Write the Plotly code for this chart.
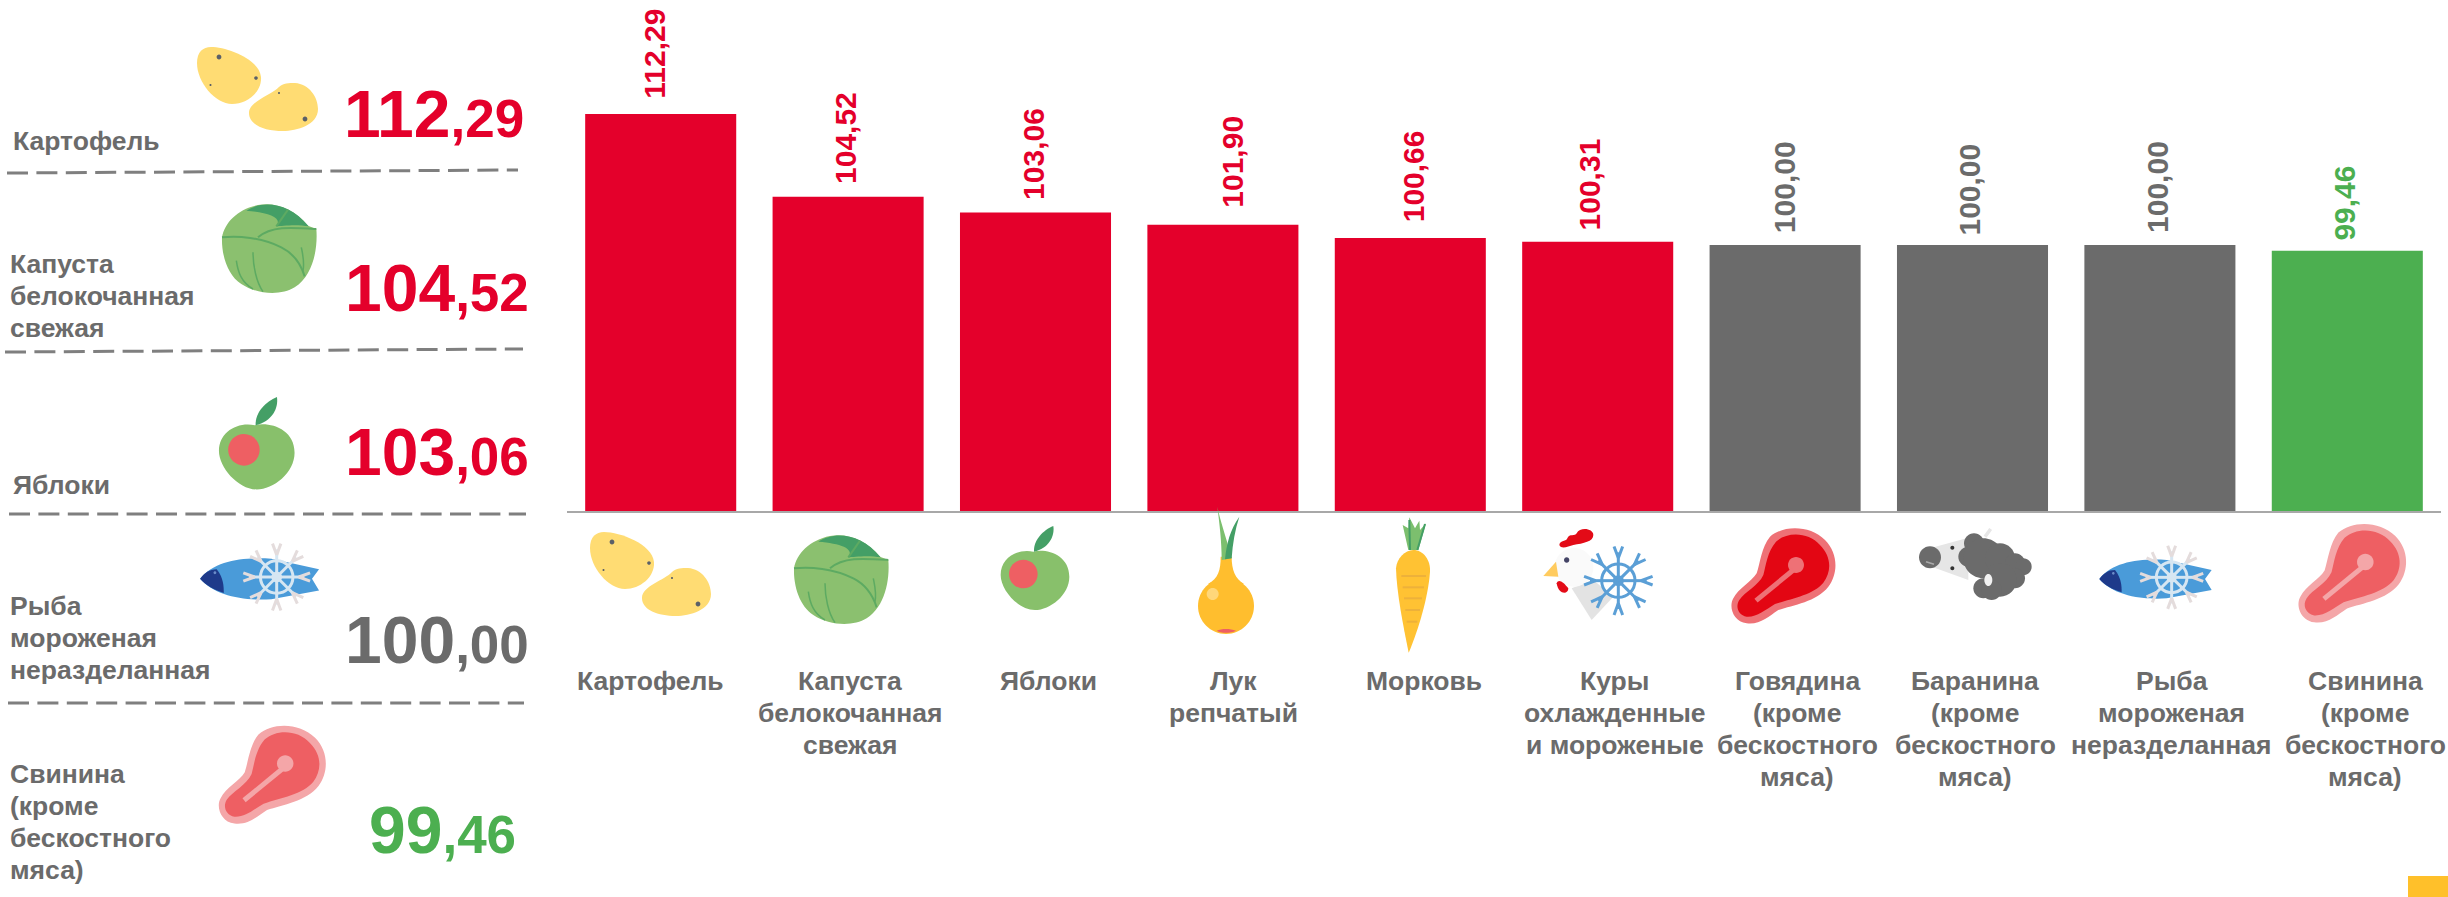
import math
import re
import plotly.graph_objects as go

# ---------- data ----------
categories = ["Картофель", "Капуста<br>белокочанная<br>свежая", "Яблоки", "Лук<br>репчатый", "Морковь",
              "Куры<br>охлажденные<br>и мороженые", "Говядина<br>(кроме<br>бескостного<br>мяса)",
              "Баранина<br>(кроме<br>бескостного<br>мяса)", "Рыба<br>мороженая<br>неразделанная",
              "Свинина<br>(кроме<br>бескостного<br>мяса)"]
values = [112.29, 104.52, 103.06, 101.90, 100.66, 100.31, 100.00, 100.00, 100.00, 99.46]

RED, GREY, GREEN = "#E4002B", "#6B6B6B", "#4CAF50"
bar_colors = [RED] * 6 + [GREY] * 3 + [GREEN]

side_names = ["Картофель", "Капуста<br>белокочанная<br>свежая", "Яблоки",
              "Рыба<br>мороженая<br>неразделанная", "Свинина<br>(кроме<br>бескостного<br>мяса)"]
side_values = [("112", ",29"), ("104", ",52"), ("103", ",06"), ("100", ",00"), ("99", ",46")]
side_colors = [RED, RED, RED, GREY, GREEN]

# ---------- layout constants (pixels) ----------
W, H = 2448, 897
BASE_Y = 511
PX_PER_UNIT = 10.66
Y_MIN = 75.05
FONT = "Liberation Sans"
LABEL_SIZE = 26.5
LINE_PITCH = 32

value_dx = [-7, -2, -2, 10, 3, -8, -1, -3, -3, -3]
value_gap = [13, 11, 10, 15, 14, 9, 10, 7, 10, 8]
label_dx = [-10, 2, 13, 11, 14, 17, 12, 2.5, 12, 18]
LABEL_BASELINE = 690

side_name_pos = [(11, 150), (8, 273), (11, 494), (8, 615), (8, 783)]
side_value_pos = [(525.5, 135), (531, 309), (531, 473), (531, 661), (518, 850.5)]
dash_lines = [(7, 173, 518, 170), (5, 352, 523, 349), (9, 514, 526, 514), (8, 703, 524, 703)]

shapes = []


def px(x):
    return x / W


def py(y):
    return 1 - y / H


def tr(d, ox, oy, s):
    nums = re.findall(r"[A-Za-z]|-?\d+\.?\d*", d)
    out = []
    is_x = True
    for t in nums:
        if t.isalpha():
            out.append(t)
            is_x = True
        else:
            v = float(t)
            out.append(f"{px(ox + s * v):.5f}" if is_x else f"{py(oy + s * v):.5f}")
            is_x = not is_x
    res = ""
    for t in out:
        res += t if t.isalpha() else t + " "
    return res


def fill(d, color, o):
    shapes.append(dict(type="path", xref="paper", yref="paper", path=tr(d, *o),
                       fillcolor=color, line=dict(width=0), layer="above"))


def stroke(d, color, w, o):
    shapes.append(dict(type="path", xref="paper", yref="paper", path=tr(d, *o),
                       line=dict(color=color, width=w), layer="above"))


def circ(cx, cy, r, ry=None):
    ry = r if ry is None else ry
    k = 0.5523
    return (f"M{cx-r},{cy} C{cx-r},{cy-k*ry} {cx-k*r},{cy-ry} {cx},{cy-ry} "
            f"C{cx+k*r},{cy-ry} {cx+r},{cy-k*ry} {cx+r},{cy} "
            f"C{cx+r},{cy+k*ry} {cx+k*r},{cy+ry} {cx},{cy+ry} "
            f"C{cx-k*r},{cy+ry} {cx-r},{cy+k*ry} {cx-r},{cy} Z")


def potato(ox, oy):
    o = (ox, oy, 1)
    fill("M0,16 C0,5 6,0 14,0 C30,0 62,12 64,30 C65,45 50,57 35,57 C18,57 0,35 0,16 Z", "#FFDC73", o)
    fill("M52,66 C52,54 75,48 82,40 C86,36 92,36 98,36 C112,37 121,50 121,62 C121,78 100,84 86,84 C68,84 52,78 52,66 Z",
         "#FFDC73", o)
    for cx, cy, r in [(22, 10, 2.4), (59, 31, 1.8), (13.5, 38, 1), (82, 46, 1), (108, 72, 2.4)]:
        fill(circ(cx, cy, r), "#5B6068", o)


def cabbage(ox, oy):
    o = (ox, oy, 1 / 3)
    fill("M42,145 C50,100 90,60 150,48 C200,38 260,60 300,110 L325,120 C330,180 315,260 260,295 "
         "C220,320 150,318 100,285 C60,260 40,200 42,145 Z", "#8BC06F", o)
    fill("M115,65 C160,35 240,35 302,112 C270,105 220,110 205,112 C225,85 180,70 115,65 Z", "#449F66", o)
    c = "#5DAA62"
    stroke("M42,145 C90,140 160,145 220,175 C260,195 280,230 290,262", c, 2, o)
    stroke("M150,145 C190,110 250,115 325,120", c, 2, o)
    stroke("M205,112 L240,62", c, 2, o)
    stroke("M85,215 C90,250 100,280 135,300", c, 1.5, o)
    stroke("M135,190 C135,230 145,280 165,308", c, 1.5, o)
    stroke("M280,175 C285,200 290,220 285,245", c, 1.5, o)


def apple(ox, oy, s):
    o = (ox, oy, s)
    fill("M760,95 C800,85 868,105 868,170 C868,225 810,270 765,270 C715,270 662,210 662,165 C662,115 710,85 760,95 Z",
         "#88C06B", o)
    fill(circ(730, 162, 43), "#EE5F63", o)
    fill("M762,95 C760,60 790,30 820,18 C825,50 805,85 762,95 Z", "#449F66", o)


def onion_carrot():
    o = (1180, 500, 1 / 3)
    fill(circ(138, 318, 84), "#FFBE2E", o)
    fill("M122,170 L155,170 C155,210 165,235 192,252 L84,252 C115,235 122,210 122,170 Z", "#FFBE2E", o)
    fill(circ(98, 282, 18), "#FFD77A", o)
    fill("M110,392 C125,385 150,385 168,392 C150,400 125,400 110,392 Z", "#EE5F63", o)
    fill("M112,20 C120,60 135,100 155,175 L125,180 C125,120 118,70 112,20 Z", "#7CBF6E", o)
    fill("M178,50 C150,90 140,130 135,178 L155,175 C158,130 165,90 178,50 Z", "#449F66", o)
    fill("M700,150 C730,150 752,180 750,215 C745,290 715,390 686,458 C670,380 650,280 648,205 C650,175 675,150 700,150 Z",
         "#FFC233", o)
    for y, a, b in [(228, 664, 738), (262, 668, 732), (295, 672, 726), (330, 676, 720), (365, 680, 712)]:
        stroke(f"M{a},{y} L{b},{y}", "#EDB13A", 2, o)
    fill("M685,150 L668,75 L685,85 L688,52 L705,85 L718,62 L720,90 L738,70 L715,150 Z", "#7CBF6E", o)
    stroke("M690,150 L688,60", "#449F66", 2, o)
    stroke("M712,150 L735,72", "#449F66", 2, o)


def snowflake(cx, cy, R, main, tip, w, o):
    stroke(circ(cx, cy, R * 0.5), main, w, o)
    stroke(circ(cx, cy, R * 0.12), main, w, o)
    for i in range(8):
        a = i * math.pi / 4
        ca, sa = math.cos(a), math.sin(a)
        x1, y1 = cx + R * 0.85 * ca, cy + R * 0.85 * sa
        stroke(f"M{cx:.1f},{cy:.1f} L{x1:.1f},{y1:.1f}", main, w, o)
        for sgn in (-1, 1):
            b = a + sgn * math.pi / 5
            x2, y2 = x1 + R * 0.22 * math.cos(b), y1 + R * 0.22 * math.sin(b)
            bx, by = cx + R * 0.68 * ca, cy + R * 0.68 * sa
            stroke(f"M{bx:.1f},{by:.1f} L{x2:.1f},{y2:.1f}", tip, w, o)


def chicken():
    o = (1530, 510, 1 / 3)
    fill("M125,235 L185,330 L250,260 L190,210 Z", "#E3E3E3", o)
    fill(circ(132, 172, 58), "#FAFAFA", o)
    fill("M88,105 C90,90 110,95 112,85 C118,70 135,80 140,70 C150,50 190,55 190,75 C190,95 160,100 130,105 "
         "C115,108 95,120 88,105 Z", "#E30B17", o)
    fill("M40,198 L78,155 L85,200 Z", "#FFCB5E", o)
    fill("M80,220 C85,205 100,215 115,235 C115,255 85,255 80,220 Z", "#E30B17", o)
    fill(circ(110, 150, 8), "#444466", o)
    snowflake(265, 212, 100, "#5B9FD6", "#5B9FD6", 3, o)


def meat(ox, oy, s, outer, inner, bone):
    o = (ox, oy, s)
    fill("M720,80 C760,45 840,45 885,90 C925,130 925,190 895,230 C860,275 790,285 745,300 C715,320 690,345 650,340 "
         "C610,335 595,290 610,265 C625,235 665,215 680,190 C690,160 695,110 720,80 Z", outer, o)
    fill("M738,95 C770,65 835,65 870,105 C905,140 905,185 880,218 C850,255 785,265 735,282 C705,300 680,322 650,320 "
         "C625,315 615,290 628,270 C645,245 685,228 700,195 C708,165 712,125 738,95 Z", inner, o)
    fill(circ(798, 165, 24), bone, o)
    stroke("M790,180 L678,272", bone, 5, o)


def sheep():
    o = (1900, 515, 1 / 3)
    stroke("M255,65 L272,42", "#E6E6E6", 3.5, o)
    fill("M90,100 L205,68 L205,195 L95,155 Z", "#E6E6E6", o)
    for cx, cy, r in [(222, 85, 30), (205, 125, 30), (250, 130, 60), (300, 130, 45), (345, 145, 30), (370, 155, 25),
                      (345, 190, 30), (300, 195, 50), (250, 220, 30), (275, 225, 30)]:
        fill(circ(cx, cy, r), GREY, o)
    fill(circ(90, 127, 33), GREY, o)
    stroke("M78,140 L102,148", "#AAAAAA", 1.5, o)
    fill(circ(157, 98, 6), "#333333", o)
    fill(circ(157, 160, 6), "#333333", o)
    fill(circ(265, 195, 12, 18), "#F2F2F2", o)


def fish(ox, oy, s):
    o = (ox, oy, s)
    fill("M598,192 C640,140 720,130 800,135 L935,165 L915,192 L935,225 L800,250 C720,255 640,240 598,192 Z", "#4A9BD9", o)
    fill("M598,192 C610,175 625,165 645,165 C665,190 665,215 665,232 C640,225 612,210 598,192 Z", "#1E3A8A", o)
    fill(circ(640, 175, 4), "#6C8CC8", o)
    snowflake(815, 187, 92, "#D6E6F2", "#E4DCDC", 3, o)


potato(197, 47)
potato(590, 532)
cabbage(208, 189)
cabbage(780, 520)
apple(-24, 390.4, 0.367)
apple(780, 520, 1 / 3)
onion_carrot()
chicken()
meat(1530, 510, 1 / 3, "#EE7176", "#E30613", "#EE7176")
sheep()
fish(1900, 515, 1 / 3)
fish(-11, 511, 0.353)
meat(2090, 505, 0.345, "#F4A6A8", "#EE5F63", "#F4A6A8")
meat(11.5, 707, 0.343, "#F4A6A8", "#EE5F63", "#F4A6A8")

for x0, y0, x1, y1 in dash_lines:
    shapes.append(dict(type="line", xref="paper", yref="paper", x0=px(x0), y0=py(y0), x1=px(x1), y1=py(y1),
                       line=dict(color="#7F7F7F", width=3, dash="21px,8.4px"), layer="above"))
shapes.append(dict(type="rect", xref="paper", yref="paper", x0=px(2408), x1=1, y0=py(876), y1=0,
                   fillcolor="#FFC02A", line=dict(width=0)))

# ---------- text ----------
annotations = []
for c, v, col, dx, gap in zip(categories, values, bar_colors, value_dx, value_gap):
    annotations.append(dict(x=c, y=v, xref="x", yref="y", text=f"<b>{v:.2f}</b>".replace(".", ","), showarrow=False,
                            textangle=-90, xanchor="center", yanchor="bottom", xshift=dx, yshift=gap,
                            font=dict(family=FONT, size=30, color=col)))
for c, dx in zip(categories, label_dx):
    for i, line in enumerate(c.split("<br>")):
        annotations.append(dict(x=c, y=py(LABEL_BASELINE + i * LINE_PITCH - 9.2), xref="x", yref="paper",
                                text=f"<b>{line}</b>", showarrow=False, xanchor="center", yanchor="middle",
                                xshift=dx, font=dict(family=FONT, size=LABEL_SIZE, color=GREY)))
for t, (x, y) in zip(side_names, side_name_pos):
    for i, line in enumerate(t.split("<br>")):
        annotations.append(dict(x=px(x), y=py(y + i * LINE_PITCH - 9.2), xref="paper", yref="paper",
                                text=f"<b>{line}</b>", showarrow=False, xanchor="left", yanchor="middle",
                                font=dict(family=FONT, size=LABEL_SIZE, color=GREY)))
for (a, b), (x, y), col in zip(side_values, side_value_pos, side_colors):
    annotations.append(dict(x=px(x), y=py(y + 18), xref="paper", yref="paper",
                            text=f'<b>{a}<span style="font-size:53px">{b}</span></b>', showarrow=False,
                            xanchor="right", yanchor="bottom", align="right",
                            font=dict(family=FONT, size=66, color=col)))

fig = go.Figure(go.Bar(x=categories, y=values, marker=dict(color=bar_colors, line=dict(width=0)), width=0.806,
                       hoverinfo="skip"))
fig.update_layout(
    width=W, height=H, margin=dict(l=0, r=0, t=0, b=0), paper_bgcolor="white", plot_bgcolor="white",
    showlegend=False, shapes=shapes, annotations=annotations,
    xaxis=dict(domain=[px(567), px(2441)], type="category", range=[-0.5, 9.5], autorange=False,
               showticklabels=False, ticks="", showgrid=False,
               showline=True, linecolor="#A8A8A8", linewidth=2, zeroline=False, fixedrange=True),
    yaxis=dict(domain=[py(BASE_Y), 1], range=[Y_MIN, Y_MIN + BASE_Y / PX_PER_UNIT], showticklabels=False, ticks="",
               showgrid=False, showline=False, zeroline=False, fixedrange=True),
)
fig.write_html("out.html", config=dict(displayModeBar=False),
               post_script="document.body.style.margin='0';document.documentElement.style.overflow='hidden';")
